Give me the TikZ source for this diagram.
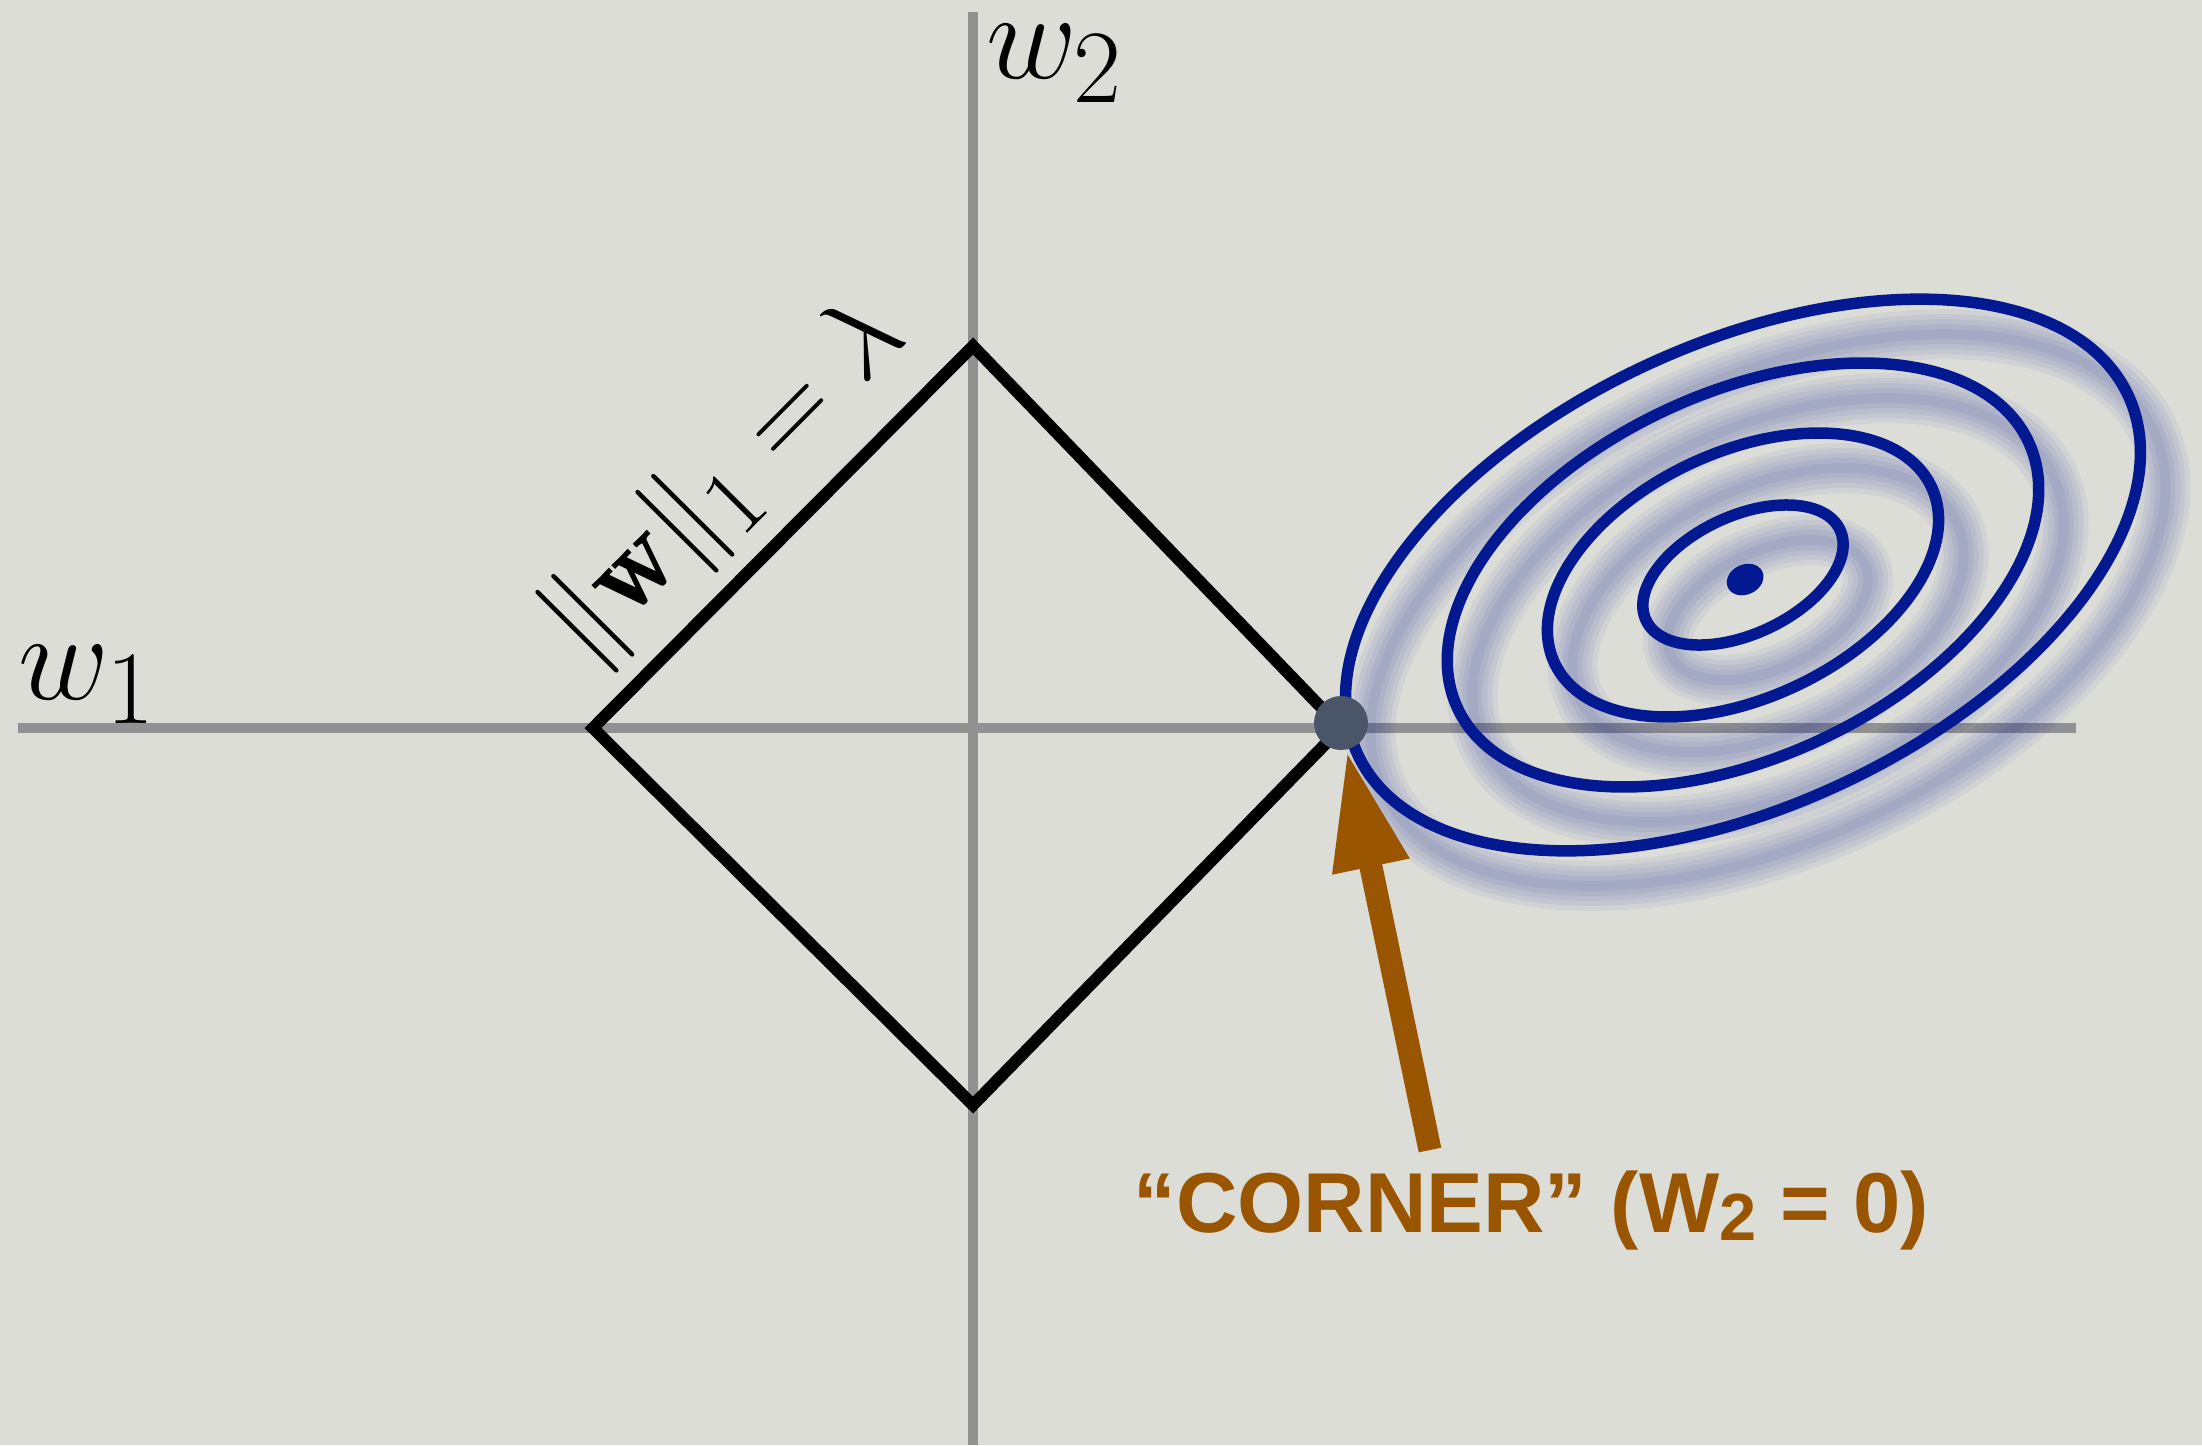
\documentclass[tikz,border=0pt]{standalone}
\usepackage{amsfonts,amssymb,amsmath}
\usepackage{xcolor}
\usepackage{fontspec}
\newfontfamily\cornerfont{Liberation Sans}
\usepackage{tikz}
\usetikzlibrary{arrows.meta}
\definecolor{paper}{RGB}{221,221,216}
\definecolor{axisgray}{RGB}{145,145,145}
\definecolor{contour}{RGB}{3,25,145}
\definecolor{cornerbrown}{RGB}{153,85,0}
\definecolor{dotgray}{RGB}{74,86,104}
\tikzset{
  axis/.style={line width=0.1cm,axisgray},
  ball/.style={line width=0.12cm,line join=miter,black},
  level/.style={line width=0.115cm,contour},
  glow/.style={contour,opacity=0.055},
  axislabel/.style={anchor=base west,inner sep=0,font=\Huge,scale=1.43}
}

\begin{document}
\begin{tikzpicture}[>=Stealth]
\fill[paper](-9.73,-7.17)rectangle(12.29,7.28);
\useasboundingbox(-9.73,-7.17)rectangle(12.29,7.28);
% axes
\coordinate (xl) at (-9.55,0);
\coordinate (xr) at (11.03,0);
\coordinate (yt) at (0,7.16);
\coordinate (yb) at (0,-7.17);
\draw[axis](xl)--(xr);
\draw[axis](yt)--(yb);
\node[axislabel] (w1) at (-9.55,0.29) {$w_1$};
\node[axislabel] (w2) at (0.12,6.50) {$w_2$};
% loss contours with soft shadow
\coordinate (C) at (7.70,1.53);
\coordinate (S) at (7.95,1.18);
\foreach \a/\b in {4.25/2.31,3.15/1.82,2.08/1.23,1.07/0.59}{
  \foreach \w in {0.5,0.4,0.3,0.2,0.1}
    \draw[glow,line width=\w cm,rotate around={25:(S)}](S)ellipse[x radius=\a,y radius=\b];
}
\foreach \a/\b in {4.25/2.31,3.15/1.82,2.08/1.23,1.07/0.59}
  \draw[level,rotate around={25:(C)}](C)ellipse[x radius=\a,y radius=\b];
\fill[contour,rotate around={25:(C)}]([yshift=-0.05cm]C)ellipse[x radius=0.19,y radius=0.15];
% l1 ball
\coordinate (T) at (0,3.82);
\coordinate (L) at (-3.80,0);
\coordinate (B) at (0,-3.77);
\coordinate (R) at (3.68,0);
\draw[ball](L)--(T)node[pos=0.5,sloped,anchor=south,inner xsep=0,inner ysep=0.1cm,scale=1.32,font=\Huge](norm){$\|\mathbf{w}\|_1=\lambda$}
  --(R)--(B)--cycle;
\node[circle,fill=dotgray,minimum size=0.54cm,inner sep=0] (corner) at ([yshift=0.05cm]R) {};
% arrow to the corner
\coordinate (tail) at (4.57,-4.22);
\draw[-{Triangle[length=1.19cm,width=0.72cm]},line width=0.23cm,cornerbrown](tail)--(corner);
\node[anchor=base west,inner sep=0,cornerbrown,font=\cornerfont\bfseries\fontsize{24.2}{28}\selectfont] (cornerlabel) at (1.60,-5.04)
  {“CORNER” (W\raisebox{-2.3pt}{\fontsize{19}{20}\selectfont 2} = 0)};
\end{tikzpicture}
\end{document}
